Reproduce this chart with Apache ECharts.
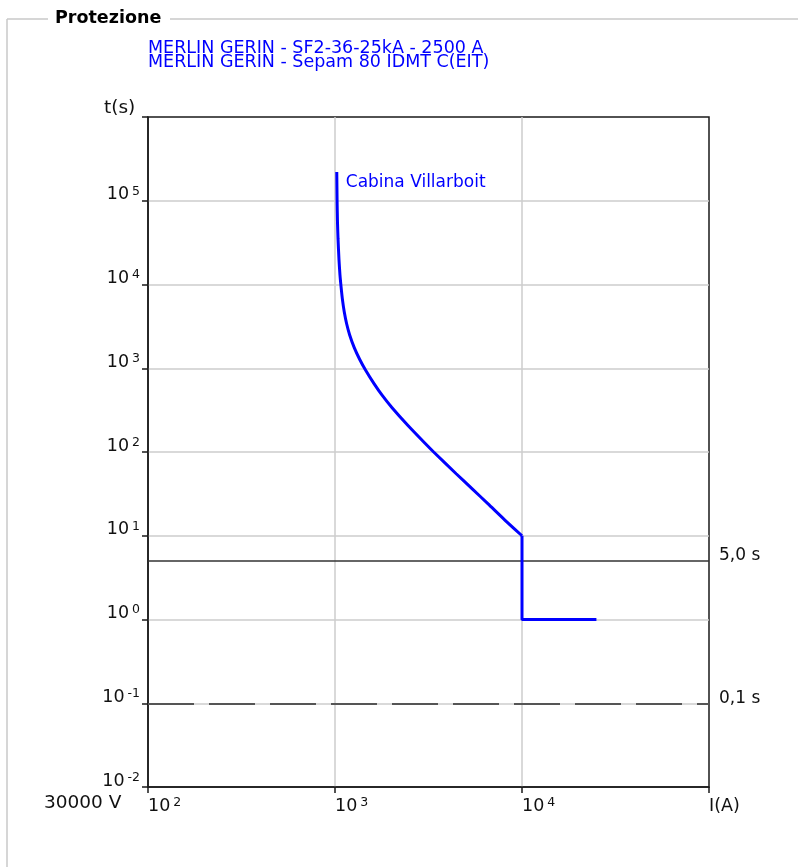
<!DOCTYPE html>
<html>
<head>
<meta charset="utf-8">
<script src="https://cdn.jsdelivr.net/npm/echarts@6/dist/echarts.min.js"></script>
<style>
html,body{margin:0;padding:0;background:#fff;}
#c{width:798px;height:867px;}
</style>
</head>
<body>
<div id="c"></div>
<script>
// ---- data ----
const panelTitle = 'Protezione';
const deviceLines = ['MERLIN GERIN - SF2-36-25kA - 2500 A', 'MERLIN GERIN - Sepam 80 IDMT C(EIT)'];
const voltageLabel = '30000 V';
const yAxisTitle = 't(s)';
const xAxisTitle = 'I(A)';
const curveName = 'Cabina Villarboit';
// inverse-time curve (from the high current end up to the top)
const curveCurrentA = [10000, 8072, 6586, 5436, 4447, 3370, 3020, 2456, 2014, 1781, 1620, 1453, 1354, 1269, 1198, 1154, 1121, 1097, 1077, 1063, 1050, 1038, 1031, 1026, 1022];
const curveTimeS    = [10, 15.5, 24, 36, 55, 100, 128, 207, 340, 480, 650, 960, 1280, 1750, 2500, 3400, 4700, 6500, 9500, 13000, 20000, 35000, 56000, 100000, 220000];
// definite-time step
const stepCurrentA = [10000, 10000, 25000];
const stepTimeS    = [10, 1, 1];
// time thresholds
const thresholdTimes  = [5, 0.1];
const thresholdLabels = ['5,0 s', '0,1 s'];
// axis ranges
const xRange = [100, 100000];
const yRange = [0.01, 1000000];

const FONT = 'DejaVu Sans';
const BLUE = '#0000ff';

const chart = echarts.init(document.getElementById('c'), null, {renderer: 'canvas'});

function pow10Label(v) {
  const e = Math.round(Math.log10(v));
  return '{b|10}{s|' + e + '}';
}
const richLbl = {
  b: {fontSize: 17.5, fontFamily: FONT, color: '#111', lineHeight: 20},
  s: {fontSize: 12.5, fontFamily: FONT, color: '#111', lineHeight: 12, verticalAlign: 'top', padding: [0, 0, 0, 3]}
};

const option = {
  animation: false,
  backgroundColor: '#fff',
  grid: {left: 148, top: 117, width: 561, height: 670, show: true, borderColor: '#1a1a1a', borderWidth: 1.5, outerBoundsMode: 'none', containLabel: false},
  xAxis: {
    type: 'log', logBase: 10, min: xRange[0], max: xRange[1],
    axisLine: {show: true, onZero: false, lineStyle: {color: '#1a1a1a', width: 1.5}},
    axisTick: {show: true, length: 6, lineStyle: {color: '#1a1a1a', width: 1.5}},
    minorTick: {show: false},
    splitLine: {show: true, showMinLine: false, showMaxLine: false, lineStyle: {color: '#cccccc', width: 1.5}},
    axisLabel: {
      margin: 9, align: 'left', showMinLabel: true, showMaxLabel: true,
      formatter: function (v) {
        if (Math.abs(v - xRange[1]) < 1) return '{b|' + xAxisTitle + '}';
        return pow10Label(v);
      },
      rich: richLbl
    }
  },
  yAxis: {
    type: 'log', logBase: 10, min: yRange[0], max: yRange[1],
    axisLine: {show: true, onZero: false, lineStyle: {color: '#1a1a1a', width: 1.5}},
    axisTick: {show: true, length: 6, lineStyle: {color: '#1a1a1a', width: 1.5}},
    minorTick: {show: false},
    splitLine: {show: true, showMinLine: false, showMaxLine: false, lineStyle: {color: '#cccccc', width: 1.5}},
    axisLabel: {
      margin: 8, showMinLabel: true, showMaxLabel: true,
      padding: [0, 0, 12, 0],
      formatter: function (v) {
        if (Math.abs(Math.log10(v) - Math.log10(yRange[1])) < 0.01) return '';
        return pow10Label(v);
      },
      rich: richLbl
    }
  },
  series: [
    {
      name: curveName,
      type: 'line',
      data: curveCurrentA.map((x, i) => [x, curveTimeS[i]]),
      smooth: 0.2,
      showSymbol: false,
      lineStyle: {color: BLUE, width: 3},
      z: 5,
      endLabel: {
        show: true, formatter: '{a}', color: BLUE, fontFamily: FONT, fontSize: 17,
        distance: 9, offset: [0, 11]
      },
      markLine: {
        silent: true, symbol: ['none', 'none'],
        data: [
          {yAxis: thresholdTimes[0], lineStyle: {type: 'solid', color: '#333', width: 1.5},
           label: {formatter: thresholdLabels[0]}},
          {yAxis: thresholdTimes[1], lineStyle: {type: [46, 15], color: '#555', width: 2},
           label: {formatter: thresholdLabels[1]}}
        ],
        label: {show: true, position: 'end', distance: 10, color: '#111', fontFamily: FONT, fontSize: 17, verticalAlign: 'bottom', lineHeight: 10}
      }
    },
    {
      name: 'step',
      type: 'line',
      data: stepCurrentA.map((x, i) => [x, stepTimeS[i]]),
      showSymbol: false,
      lineStyle: {color: BLUE, width: 3},
      z: 5
    }
  ],
  graphic: [
    // panel frame (fieldset-like)
    {type: 'line', shape: {x1: 7, y1: 19, x2: 7, y2: 867}, style: {stroke: '#c8c8c8', lineWidth: 1.5}, silent: true},
    {type: 'line', shape: {x1: 7, y1: 19, x2: 48, y2: 19}, style: {stroke: '#c8c8c8', lineWidth: 1.5}, silent: true},
    {type: 'line', shape: {x1: 170, y1: 19, x2: 798, y2: 19}, style: {stroke: '#c8c8c8', lineWidth: 1.5}, silent: true},
    {type: 'text', left: 55, top: 9, style: {text: panelTitle, font: 'bold 17.5px "DejaVu Sans"', fill: '#000'}},
    {type: 'text', left: 148, top: 39, style: {text: deviceLines.join('\n'), font: '17.5px "DejaVu Sans"', fill: BLUE, lineHeight: 14}},
    {type: 'text', left: 104, top: 99, style: {text: yAxisTitle, font: '18.5px "DejaVu Sans"', fill: '#111'}},
    {type: 'text', left: 44, top: 794, style: {text: voltageLabel, font: '18.5px "DejaVu Sans"', fill: '#111'}}
  ]
};
chart.setOption(option);
</script>
</body>
</html>
